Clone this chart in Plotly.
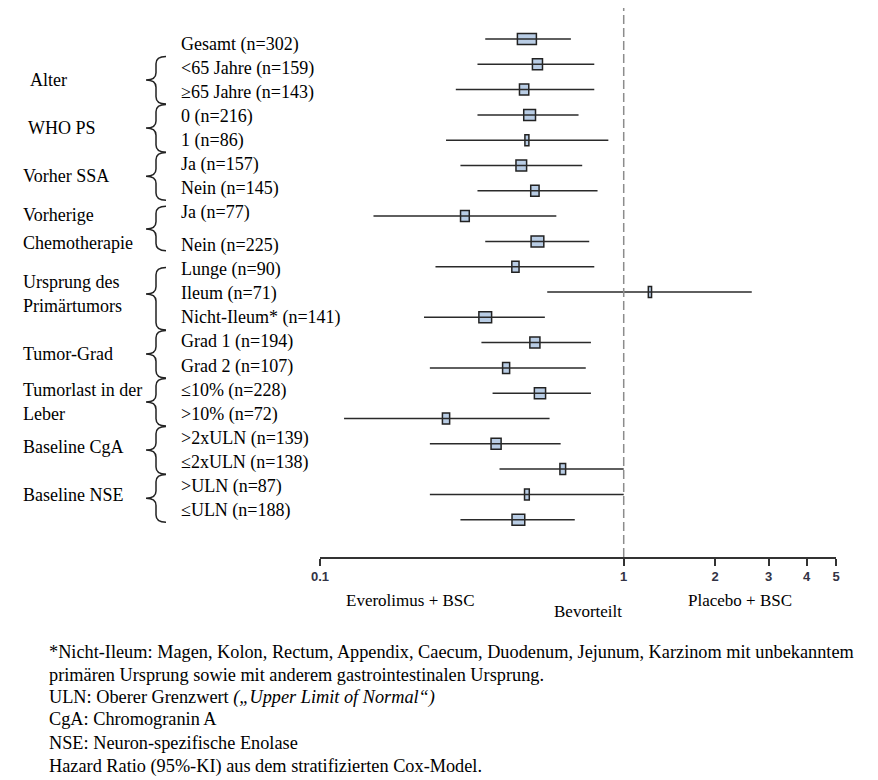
import numpy as np
import plotly.graph_objects as go

# subgroup rows, top to bottom
labels = ['Gesamt (n=302)', '<65 Jahre (n=159)', '≥65 Jahre (n=143)',
          '0 (n=216)', '1 (n=86)', 'Ja (n=157)', 'Nein (n=145)',
          'Ja (n=77)', 'Nein (n=225)', 'Lunge (n=90)', 'Ileum (n=71)',
          'Nicht-Ileum* (n=141)', 'Grad 1 (n=194)', 'Grad 2 (n=107)',
          '≤10% (n=228)', '>10% (n=72)', '>2xULN (n=139)', '≤2xULN (n=138)',
          '>ULN (n=87)', '≤ULN (n=188)']
hr = [0.48, 0.52, 0.47, 0.49, 0.48, 0.46, 0.51, 0.30, 0.52, 0.44, 1.22,
      0.35, 0.51, 0.41, 0.53, 0.26, 0.38, 0.63, 0.48, 0.45]
ci_lo = [0.35, 0.33, 0.28, 0.33, 0.26, 0.29, 0.33, 0.15, 0.35, 0.24, 0.56,
         0.22, 0.34, 0.23, 0.37, 0.12, 0.23, 0.39, 0.23, 0.29]
ci_hi = [0.67, 0.80, 0.80, 0.71, 0.89, 0.73, 0.82, 0.60, 0.77, 0.80, 2.64,
         0.55, 0.78, 0.75, 0.78, 0.57, 0.62, 1.00, 1.00, 0.69]
# relative weight of each subgroup (box width), Gesamt = 1
weight = [1.00, 0.53, 0.49, 0.62, 0.21, 0.56, 0.44, 0.46, 0.67, 0.38, 0.17,
          0.67, 0.53, 0.37, 0.59, 0.38, 0.53, 0.30, 0.25, 0.67]

# group name lines, first and last subgroup row of each group
groups = [(['Alter'], 1, 2), (['WHO PS'], 3, 4), (['Vorher SSA'], 5, 6),
          (['Vorherige', 'Chemotherapie'], 7, 8),
          (['Ursprung des', 'Primärtumors'], 9, 11),
          (['Tumor-Grad'], 12, 13), (['Tumorlast in der', 'Leber'], 14, 15),
          (['Baseline CgA'], 16, 17), (['Baseline NSE'], 18, 19)]

tick_vals = [0.1, 1, 2, 3, 4, 5]

footnotes = ['*Nicht-Ileum: Magen, Kolon, Rectum, Appendix, Caecum, Duodenum, Jejunum, Karzinom mit unbekanntem',
             'primären Ursprung sowie mit anderem gastrointestinalen Ursprung.',
             'ULN: Oberer Grenzwert <i>(„Upper Limit of Normal“)</i>',
             'CgA: Chromogranin A',
             'NSE: Neuron-spezifische Enolase',
             'Hazard Ratio (95%-KI) aus dem stratifizierten Cox-Model.']

# the page adds an 8 px body margin, so the figure is 8 px smaller
OFF = 8
W, H = 878 - OFF, 780 - OFF
L, R, T, B = 320 - OFF, 42, 0, 223
serif = 'Liberation Serif, Times New Roman, Times, serif'
xrange_log = [-1, np.log10(5)]
px_per_dec = (W - L - R) / (xrange_log[1] - xrange_log[0])
row_px = 25.3


def px_x(px):
    return (px - OFF - L) / (W - L - R)


def px_y(py):
    return 1 - (py - OFF - T) / (H - T - B)


rows = np.arange(len(labels))
# label column has a slightly larger gap inside the chemotherapy group
lab_pos = rows + np.where(rows >= 8, 0.4, 0.0)

fig = go.Figure()

# confidence intervals
xs, ys = [], []
for i in rows:
    xs += [ci_lo[i], ci_hi[i], None]
    ys += [i, i, None]
fig.add_trace(go.Scatter(x=xs, y=ys, mode='lines',
                         line=dict(color='#2a2a2a', width=1.5),
                         hoverinfo='skip', showlegend=False))

# point estimates as boxes, width (in px) from the weight
hr_a = np.array(hr)
half = np.array(weight) * 19 / 2 / px_per_dec
box_lo = hr_a * 10 ** (-half)
box_hi = hr_a * 10 ** half
fig.add_trace(go.Bar(y=rows, x=box_hi - box_lo, base=box_lo, orientation='h',
                     width=11 / row_px,
                     marker=dict(color='#b9cde5', line=dict(color='#222222', width=1.5)),
                     hoverinfo='skip', showlegend=False))

# line of no effect
fig.add_shape(type='line', xref='x', yref='paper', x0=1, x1=1, y0=0,
              y1=1 + OFF / (H - T - B),
              line=dict(color='#8c8c8c', width=1.5, dash='9px,4px'))

# subgroup labels
for i in rows:
    fig.add_annotation(text=labels[i], xref='paper', yref='y2',
                       x=px_x(179), y=lab_pos[i], xanchor='left',
                       showarrow=False, font=dict(family=serif, size=18, color='black'))

# group labels and braces
indent = {'Alter': 28, 'WHO PS': 26}
for names, a, b in groups:
    mid = (lab_pos[a] + lab_pos[b]) / 2
    n = len(names)
    for k, name in enumerate(names):
        y = mid + (k - (n - 1) / 2) * (1.15 if a == 7 else 1.0)
        if a >= 16:
            y -= 0.15
        fig.add_annotation(text=name, xref='paper', yref='y2',
                           x=px_x(indent.get(name, 21)), y=y, xanchor='left',
                           showarrow=False, font=dict(family=serif, size=18, color='black'))
    top = lab_pos[a] - (0.25 if a == 7 else 0.1 if a == 9 else 0.48)
    bot = lab_pos[b] + (0.2 if a == 7 else 0.5)
    xe, xm, xt = px_x(166), px_x(156), px_x(146)
    d = 0.3
    path = (f'M {xe},{top} Q {xm},{top} {xm},{top + d} '
            f'L {xm},{mid - d} Q {xm},{mid} {xt},{mid} '
            f'Q {xm},{mid} {xm},{mid + d} L {xm},{bot - d} '
            f'Q {xm},{bot} {xe},{bot}')
    fig.add_shape(type='path', xref='paper', yref='y2', path=path,
                  line=dict(color='#222222', width=1.5))

# side captions under the axis
for text, cx, cy in [('Everolimus + BSC', 410, 600), ('Bevorteilt', 588, 611),
                     ('Placebo + BSC', 740, 600)]:
    fig.add_annotation(text=text, xref='paper', yref='paper',
                       x=px_x(cx), y=px_y(cy), xanchor='center', yanchor='middle',
                       showarrow=False, font=dict(family=serif, size=17, color='black'))

# footnotes
for k, line in enumerate(footnotes):
    py = [652, 675, 697, 719, 743, 766][k]
    fig.add_annotation(text=line, xref='paper', yref='paper',
                       x=px_x(47), y=px_y(py), xanchor='left', yanchor='middle',
                       showarrow=False, font=dict(family=serif, size=18.3, color='black'))

fig.update_layout(
    width=W, height=H,
    margin=dict(l=L, r=R, t=T, b=B),
    paper_bgcolor='white', plot_bgcolor='white',
    xaxis=dict(type='log', range=xrange_log,
               tickvals=tick_vals, ticktext=[str(v) for v in tick_vals],
               showline=True, linecolor='#333333', linewidth=1.5,
               ticks='outside', ticklen=7, tickwidth=1.5, tickcolor='#333333',
               tickfont=dict(family='Liberation Sans', size=13, color='#333344', weight='bold'),
               showgrid=False, zeroline=False, fixedrange=True),
    yaxis=dict(range=[(557 - 39) / row_px, -(39 - OFF) / row_px],
               visible=False, fixedrange=True),
    yaxis2=dict(range=[(557 - 44) / 24.03, -(44 - OFF) / 24.03], overlaying='y',
                visible=False, fixedrange=True),
    showlegend=False,
)

fig.write_html("out.html")
